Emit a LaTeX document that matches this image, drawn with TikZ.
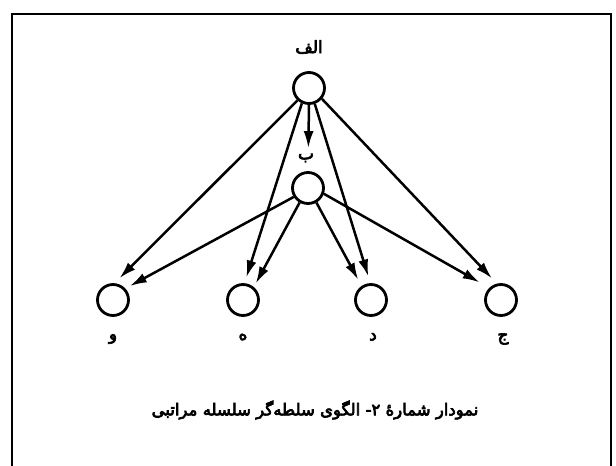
\documentclass[tikz,border=0pt]{standalone}
\usepackage{fontspec}
\usetikzlibrary{arrows.meta}
\newfontfamily\arabicfont[Script=Arabic,FakeBold=4]{DejaVu Sans}
\TeXXeTstate=1
\begin{document}
\begin{tikzpicture}[x=1pt,y=-1pt,
  vertex/.style={circle,draw,line width=2.8pt,minimum size=31pt,inner sep=0pt},
  lbl/.style={font=\arabicfont\fontsize{17}{19}\selectfont,inner sep=0pt},
  captext/.style={font=\arabicfont\fontsize{16.5}{19}\selectfont,inner sep=0pt},
  link/.style={line width=2.5pt,-{Latex[length=17pt,width=10pt]}}]
\useasboundingbox (0,0) rectangle (616,466);
\fill[white] (0,0) rectangle (616,466);
% frame
\draw[line width=2pt] (12,470) -- (12,14) -- (611,14) -- (611,470);
% nodes
\node[vertex] (A) at (309,88) {};
\node[vertex] (B) at (308,188) {};
\node[vertex] (F) at (113,300) {};
\node[vertex] (E) at (243,300) {};
\node[vertex] (D) at (371,300) {};
\node[vertex] (C) at (501,300) {};
% labels
\node[lbl] (lA) at (309,47) {\beginR الف\endR};
\node[lbl] (lB) at (306,158) {\beginR ب\endR};
\node[lbl] (lF) at (113,339) {\beginR و\endR};
\node[lbl] (lE) at (243,337) {\beginR ه\endR};
\node[lbl] (lD) at (373,337) {\beginR د\endR};
\node[lbl] (lC) at (503,339) {\beginR ج\endR};
\node[captext] (caption) at (315,410) {\beginR نمودار شمارهٔ ۲-  الگوی سلطه‌گر سلسله مراتبی\endR};
% connectors
\draw[link,shorten >=23pt] (A.south) -- (B.north);
\draw[link,shorten >=7pt] (A.227) -- (F.85);
\draw[link,shorten >=5pt] (B.212) -- (F.43);
\draw[link,shorten >=6pt] (A.245) -- (E.85);
\draw[link,shorten >=4pt] (B.240) -- (E.50);
\draw[link,shorten >=7pt] (A.290) -- (D.92);
\draw[link,shorten >=7pt] (B.300) -- (D.124);
\draw[link,shorten >=7pt] (A.320) -- (C.104);
\draw[link,shorten >=11pt] (B.340) -- (C.134);
\end{tikzpicture}
\end{document}
